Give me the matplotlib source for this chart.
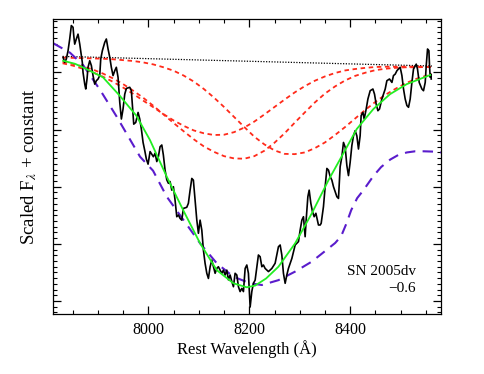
import numpy as np
import matplotlib
matplotlib.use("Agg")
import matplotlib.pyplot as plt
from matplotlib.ticker import MultipleLocator

plt.rcParams['font.family'] = ['Liberation Serif', 'DejaVu Serif']
plt.rcParams['mathtext.fontset'] = 'stix'

# observed spectrum (rest wavelength in A, scaled flux)
spec_wl = [7831, 7834.2, 7837.4, 7840.8, 7844.1, 7847.3, 7850.7, 7852.1, 7854.0, 7857.2,
           7860.6, 7864.0, 7867.1, 7869.1, 7870.5, 7873.9, 7875.9, 7878.4, 7880.4, 7883.8,
           7887.0, 7890.3, 7893.7, 7896.9, 7900.3, 7903.6, 7905.6, 7908.8, 7913.5, 7916.7,
           7920.1, 7923.5, 7926.6, 7930.0, 7933.4, 7936.5, 7939.9, 7943.3, 7946.5, 7949.8,
           7953.2, 7956.4, 7963.1, 7966.3, 7968.3, 7971.0, 7975.0, 7979.6, 7982.9, 7986.1,
           7989.5, 7992.9, 7996.0, 7999.4, 8003.4, 8009.9, 8013.3, 8016.7, 8019.8, 8023.2,
           8026.6, 8029.7, 8033.1, 8036.5, 8039.7, 8043.0, 8046.4, 8049.6, 8052.9, 8056.3,
           8059.5, 8062.9, 8066.2, 8069.4, 8076.1, 8079.3, 8082.7, 8086.1, 8089.2, 8092.6,
           8096.0, 8099.2, 8102.5, 8105.9, 8109.1, 8112.4, 8115.8, 8119.0, 8122.4, 8125.7,
           8128.9, 8132.3, 8135.6, 8138.8, 8142.2, 8145.6, 8148.7, 8152.1, 8155.5, 8158.6,
           8162.0, 8165.4, 8168.6, 8171.9, 8175.3, 8178.5, 8181.8, 8185.2, 8188.4, 8191.8,
           8195.1, 8198.3, 8201.7, 8205.0, 8208.2, 8211.6, 8215.0, 8218.1, 8221.5, 8224.9,
           8228.0, 8231.4, 8238.0, 8244.7, 8251.2, 8257.8, 8261.2, 8264.5, 8267.7, 8271.1,
           8274.4, 8277.6, 8284.4, 8290.9, 8297.5, 8300.8, 8304.2, 8307.4, 8310.7, 8312.7,
           8316.1, 8318.7, 8322.0, 8325.2, 8328.6, 8332.0, 8337.1, 8340.5, 8342.5, 8347.0,
           8350.4, 8353.8, 8357.0, 8360.4, 8363.7, 8366.9, 8370.2, 8373.6, 8376.8, 8380.1,
           8383.5, 8386.7, 8390.1, 8393.4, 8396.6, 8399.9, 8403.3, 8406.5, 8409.8, 8413.2,
           8416.4, 8419.7, 8421.7, 8425.2, 8427.7, 8431.7, 8435.1, 8439.6, 8445.0, 8448.2,
           8451.5, 8454.9, 8458.1, 8462.8, 8469.4, 8472.7, 8477.9, 8482.7, 8485.8, 8489.2,
           8492.6, 8495.7, 8499.1, 8502.5, 8505.7, 8509.0, 8512.4, 8515.6, 8518.9, 8522.3,
           8525.5, 8530.9, 8533.4, 8536.8, 8542.1, 8545.3, 8548.7, 8550.7, 8553.3, 8556.0,
           8557.2, 8558.6, 8560.0, 8560.6]
spec_flux = [1.053, 1.035, 1.047, 1.076, 1.117, 1.164, 1.158, 1.129, 1.099, 1.117,
             1.134, 1.099, 1.059, 1.035, 1.000, 0.959, 0.942, 0.977, 1.018, 1.041,
             1.024, 0.989, 0.959, 0.971, 0.977, 0.989, 1.047, 1.076, 1.105, 1.117,
             1.082, 1.053, 1.018, 0.989, 1.006, 1.018, 0.983, 0.895, 0.837, 0.872,
             0.924, 0.944, 0.948, 0.936, 0.884, 0.819, 0.825, 0.860, 0.837, 0.802,
             0.755, 0.726, 0.697, 0.679, 0.723, 0.705, 0.717, 0.688, 0.705, 0.740,
             0.746, 0.711, 0.658, 0.624, 0.612, 0.618, 0.588, 0.600, 0.553, 0.495,
             0.501, 0.489, 0.483, 0.524, 0.528, 0.542, 0.588, 0.629, 0.623, 0.553,
             0.483, 0.437, 0.483, 0.448, 0.378, 0.332, 0.297, 0.279, 0.320, 0.343,
             0.320, 0.297, 0.314, 0.320, 0.308, 0.297, 0.308, 0.291, 0.308, 0.274,
             0.291, 0.268, 0.250, 0.297, 0.291, 0.250, 0.233, 0.244, 0.233, 0.314,
             0.326, 0.297, 0.179, 0.233, 0.262, 0.273, 0.320, 0.361, 0.355, 0.320,
             0.326, 0.314, 0.303, 0.314, 0.332, 0.390, 0.396, 0.361, 0.297, 0.262,
             0.291, 0.314, 0.349, 0.396, 0.408, 0.448, 0.483, 0.495, 0.425, 0.483,
             0.565, 0.588, 0.542, 0.513, 0.495, 0.507, 0.466, 0.466, 0.472, 0.530,
             0.600, 0.664, 0.658, 0.635, 0.623, 0.600, 0.583, 0.565, 0.559, 0.670,
             0.705, 0.755, 0.738, 0.674, 0.639, 0.685, 0.744, 0.778, 0.796, 0.778,
             0.732, 0.778, 0.849, 0.860, 0.837, 0.872, 0.907, 0.936, 0.942, 0.924,
             0.889, 0.866, 0.872, 0.907, 0.942, 0.971, 0.977, 0.965, 0.989, 0.994,
             1.006, 1.012, 1.018, 0.989, 0.942, 0.907, 0.884, 0.878, 0.907, 0.965,
             1.012, 1.029, 1.012, 0.965, 0.942, 0.936, 0.965, 1.024, 1.082, 1.076,
             1.024, 0.983, 0.994, 0.977]

# total fit (green)
fit_wl = [7831, 7855, 7877, 7910, 7943, 7976, 8003, 8036.5, 8069, 8102.5, 8135.6, 8168.6,
          8195, 8211.6, 8233.4, 8257.8, 8290.9, 8324, 8357, 8390, 8413, 8446, 8479, 8512, 8558.6]
fit_flux = [1.041, 1.030, 1.012, 0.983, 0.919, 0.849, 0.764, 0.635, 0.518, 0.402, 0.308, 0.262,
            0.248, 0.254, 0.279, 0.320, 0.402, 0.507, 0.623, 0.728, 0.802, 0.872, 0.924, 0.959, 0.991]

# comparison model (purple)
model_wl = [7811.6, 7844.7, 7870.5, 7904.2, 7937.3, 7983.5, 8009.3, 8036.5, 8069.4, 8102.5,
            8135.6, 8168.6, 8201.7, 8224.9, 8257.8, 8290.9, 8324, 8350.4, 8370.2, 8382.1,
            8392, 8402, 8413.8, 8426.3, 8446.2, 8461.4, 8479.3, 8495.2, 8512.4, 8528.9,
            8545.3, 8562.6, 8580.4]
model_flux = [1.102, 1.069, 1.026, 0.939, 0.845, 0.705, 0.656, 0.565, 0.484, 0.402,
              0.332, 0.285, 0.262, 0.256, 0.273, 0.303, 0.338, 0.375, 0.403, 0.427,
              0.469, 0.518, 0.560, 0.588, 0.638, 0.669, 0.695, 0.711, 0.720, 0.724,
              0.724, 0.723, 0.720]

# individual components (red)
comp_wl = [7830, 7850, 7870, 7890, 7910, 7930, 7950, 7970, 7990, 8010,
           8030, 8050, 8070, 8090, 8110, 8130, 8150, 8170, 8190, 8210,
           8230, 8250, 8270, 8290, 8310, 8330, 8350, 8370, 8390, 8410,
           8430, 8450, 8470, 8490, 8510, 8530, 8550, 8562]
comp_a = [1.032, 1.024, 1.013, 1.000, 0.985, 0.967, 0.947, 0.925, 0.901, 0.878,
          0.854, 0.832, 0.813, 0.797, 0.787, 0.781, 0.782, 0.791, 0.807, 0.828,
          0.853, 0.879, 0.905, 0.930, 0.952, 0.971, 0.986, 0.998, 1.007, 1.012,
          1.016, 1.019, 1.020, 1.020, 1.020, 1.020, 1.020, 1.019]
comp_b = [1.037, 1.030, 1.021, 1.010, 0.996, 0.979, 0.959, 0.936, 0.911, 0.883,
          0.853, 0.823, 0.794, 0.766, 0.741, 0.722, 0.707, 0.699, 0.698, 0.707,
          0.726, 0.754, 0.787, 0.824, 0.860, 0.895, 0.926, 0.951, 0.972, 0.988,
          0.999, 1.008, 1.013, 1.016, 1.018, 1.018, 1.019, 1.019]
comp_c = [1.052, 1.051, 1.050, 1.049, 1.048, 1.046, 1.043, 1.040, 1.035, 1.028,
          1.018, 1.006, 0.989, 0.968, 0.942, 0.912, 0.879, 0.844, 0.809, 0.775,
          0.748, 0.727, 0.715, 0.714, 0.720, 0.735, 0.755, 0.781, 0.809, 0.839,
          0.869, 0.897, 0.922, 0.943, 0.962, 0.977, 0.988, 0.993]

# continuum
cont_wl = [7830, 8562]
cont_flux = [1.056, 1.0225]

fig = plt.figure(figsize=(4.85, 3.74), dpi=100)
ax = fig.add_axes([0.1093, 0.1604, 0.8, 0.7888])

ax.plot(cont_wl, cont_flux, color='black', lw=0.9, ls=(0, (1, 1.2)))
for comp in [comp_c, comp_a, comp_b]:
    ax.plot(comp_wl, comp, color='#ff2a1a', lw=1.3, ls=(0, (2.5, 2)))
ax.plot(model_wl, model_flux, color='#5a1ccc', lw=1.5, ls=(0, (5, 3.5)))
ax.plot(spec_wl, spec_flux, color='black', lw=1.2)
ax.plot(fit_wl, fit_flux, color='#22ee22', lw=1.3)

ax.set_xlim(7811, 8580)
ax.set_ylim(0.1545, 1.187)
ax.xaxis.set_major_locator(MultipleLocator(200))
ax.xaxis.set_minor_locator(MultipleLocator(50))
ax.yaxis.set_major_locator(MultipleLocator(0.2))
ax.yaxis.set_minor_locator(MultipleLocator(0.02))
ax.tick_params(which='both', direction='in', top=True, right=True, labelsize=11.5, pad=6)
ax.tick_params(which='major', length=6, width=0.9)
ax.tick_params(which='minor', length=3, width=0.8)
ax.set_yticklabels([])
for s in ax.spines.values():
    s.set_linewidth(0.9)

ax.set_xlabel('Rest Wavelength (Å)', fontsize=12, labelpad=1)
ax.set_ylabel(r'Scaled F$_\lambda$ + constant', fontsize=13.5, labelpad=4)

ax.text(0.935, 0.115, 'SN 2005dv\n\u22120.6', transform=ax.transAxes, ha='right',
        va='center', fontsize=11, linespacing=1.35, multialignment='right')

plt.savefig('out.png', dpi=100)
